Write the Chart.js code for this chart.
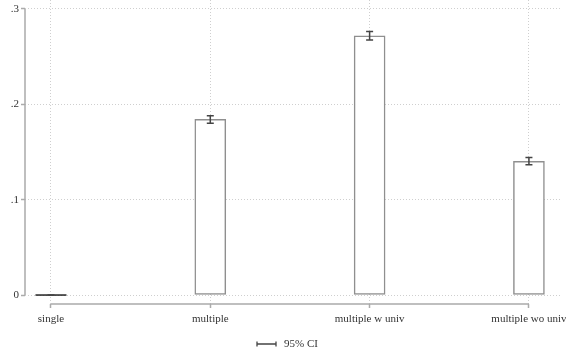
<!DOCTYPE html>
<html>
<head>
<meta charset="utf-8">
<script src="https://cdn.jsdelivr.net/npm/chart.js@4.4.1/dist/chart.umd.min.js"></script>
<style>
  html,body{margin:0;padding:0;background:#fff}
  #wrap{width:566px;height:356px;position:relative}
</style>
</head>
<body>
<div id="wrap"><canvas id="c"></canvas></div>
<script>
/* ===== data ===== */
const CATS    = ['single','multiple','multiple w univ','multiple wo univ'];
const MEANS   = [0, 0.1842, 0.2718, 0.1403];
const CI_LO   = [0, 0.1801, 0.2675, 0.1367];
const CI_HI   = [0, 0.1881, 0.2764, 0.1443];
const Y_TICKS = [0, 0.1, 0.2, 0.3];
const Y_LABELS = ['0', '.1', '.2', '.3'];
const LEGEND_TXT = '95% CI';

/* ===== style ===== */
const FONT = "'Liberation Serif', 'Times New Roman', serif";
const TXT = '#333';
const AXIS = '#ababab';
const GRID = '#cfcfcf';
const BAR_EDGE = '#8f8f8f';
const CI_COL = '#444';

// error bars, zero-height bars, axis lines and the legend key
const ciPlugin = {
  id: 'ci',
  beforeDatasetsDraw(chart){
    const {ctx, chartArea:a, scales:{x, y}} = chart;
    ctx.save();
    ctx.strokeStyle = AXIS; ctx.lineWidth = 1.5;
    ctx.beginPath();
    ctx.moveTo(a.left, y.getPixelForValue(Y_TICKS[Y_TICKS.length-1]));
    ctx.lineTo(a.left, y.getPixelForValue(0));
    ctx.moveTo(x.getPixelForValue(0), a.bottom);
    ctx.lineTo(x.getPixelForValue(CATS.length-1), a.bottom);
    ctx.stroke();
    ctx.restore();
  },
  afterDatasetsDraw(chart){
    const {ctx, scales:{y}} = chart;
    const meta = chart.getDatasetMeta(0);
    ctx.save();
    meta.data.forEach((bar, i) => {
      if (MEANS[i] === 0) {
        const y0 = y.getPixelForValue(0);
        ctx.strokeStyle = '#222'; ctx.lineWidth = 1.5;
        ctx.beginPath();
        ctx.moveTo(bar.x - bar.width/2, y0); ctx.lineTo(bar.x + bar.width/2, y0);
        ctx.stroke();
      }
      const yl = y.getPixelForValue(CI_LO[i]), yh = y.getPixelForValue(CI_HI[i]);
      ctx.strokeStyle = CI_COL; ctx.lineWidth = 1.5;
      ctx.beginPath();
      ctx.moveTo(bar.x, yl); ctx.lineTo(bar.x, yh);
      ctx.moveTo(bar.x-3.5, yl); ctx.lineTo(bar.x+3.5, yl);
      ctx.moveTo(bar.x-3.5, yh); ctx.lineTo(bar.x+3.5, yh);
      ctx.stroke();
    });
    ctx.restore();
  },
  afterDraw(chart){
    const {ctx} = chart;
    ctx.save();
    ctx.font = '11px ' + FONT;
    const tw = ctx.measureText(LEGEND_TXT).width;
    const keyW = 19, gap = 8;
    const x0 = Math.round(chart.width/2 - (keyW + gap + tw)/2) + 4, ly = 344;
    ctx.strokeStyle = CI_COL; ctx.lineWidth = 1.3;
    ctx.beginPath();
    ctx.moveTo(x0, ly); ctx.lineTo(x0+keyW, ly);
    ctx.moveTo(x0, ly-2.5); ctx.lineTo(x0, ly+2.5);
    ctx.moveTo(x0+keyW, ly-2.5); ctx.lineTo(x0+keyW, ly+2.5);
    ctx.stroke();
    ctx.fillStyle = TXT; ctx.textBaseline = 'middle';
    ctx.fillText(LEGEND_TXT, x0 + keyW + gap, ly);
    ctx.restore();
  }
};

new Chart(document.getElementById('c'), {
  type: 'bar',
  data: {
    datasets: [{
      data: MEANS.map((v, i) => ({x: i, y: v})),
      backgroundColor: '#fff',
      borderColor: BAR_EDGE,
      borderWidth: 1.5,
      borderSkipped: false,
      barThickness: 31
    }]
  },
  options: {
    responsive: true, maintainAspectRatio: false, animation: false,
    layout: {padding: {left: 0, right: 6, top: 0, bottom: 0}},
    plugins: {legend: {display: false}, tooltip: {enabled: false}},
    scales: {
      x: {
        type: 'linear', min: -0.163, max: 3.195, offset: false,
        afterBuildTicks: s => { s.ticks = CATS.map((_, i) => ({value: i})); },
        afterFit: s => { s.height = 52; s.paddingLeft = 0; s.paddingRight = 0; },
        border: {display: false, dash: [1, 2]},
        grid: {offset: false, color: GRID, tickLength: 4,
               tickColor: AXIS, tickWidth: 1.5, tickBorderDash: []},
        ticks: {callback: v => CATS[v], color: TXT, padding: 5,
                maxRotation: 0, autoSkip: false, font: {family: FONT, size: 11}}
      },
      y: {
        type: 'linear', min: -0.0094, max: 0.3094,
        afterBuildTicks: s => { s.ticks = Y_TICKS.map(v => ({value: v})); },
        afterFit: s => { s.width = 25; s.paddingTop = 0; s.paddingBottom = 0; },
        border: {display: false, dash: [1, 2]},
        grid: {color: GRID, tickLength: 4,
               tickColor: AXIS, tickWidth: 1.5, tickBorderDash: []},
        ticks: {callback: v => Y_LABELS[Y_TICKS.indexOf(v)], color: TXT, padding: 2,
                font: {family: FONT, size: 11}}
      }
    }
  },
  plugins: [ciPlugin]
});
</script>
</body>
</html>
